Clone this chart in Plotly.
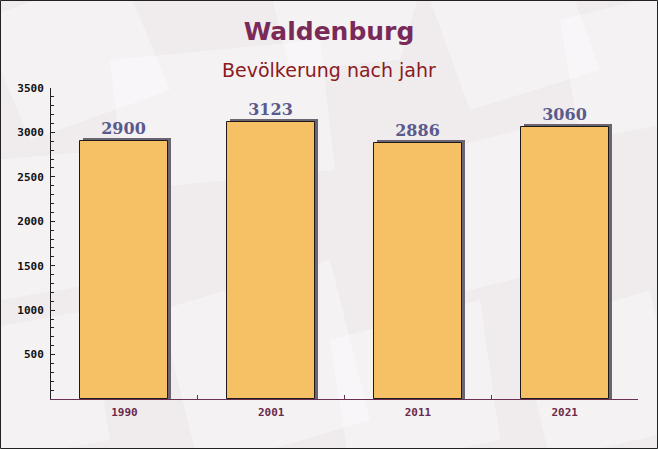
import plotly.graph_objects as go

# ---- data ----
years = ["1990", "2001", "2011", "2021"]
population = [2900, 3123, 2886, 3060]
y_tick_values = [500, 1000, 1500, 2000, 2500, 3000, 3500]
title_text = "Waldenburg"
subtitle_text = "Bevölkerung nach jahr"

# ---- geometry ----
W, H = 658, 449
L, R, T, B = 51, 20, 88, 50
PW, PH = W - L - R, H - T - B
Y_MAX = 3500
BAR_W = 0.6
SHADOW_PX = 3
shadow_dx = SHADOW_PX / (PW / len(years))
shadow_dy = SHADOW_PX * Y_MAX / PH


def px_x(px):
    return (px - L) / PW


def px_y(py):
    return (H - B - py) / PH


def poly(points):
    pts = [f"{px_x(x):.5f},{px_y(y):.5f}" for x, y in points]
    return "M" + " L".join(pts) + " Z"


fig = go.Figure()

# shadow bars
fig.add_trace(go.Bar(
    x=years,
    y=[v + shadow_dy for v in population],
    width=BAR_W,
    offset=-BAR_W / 2 + shadow_dx,
    marker=dict(color="#6a6570", line=dict(width=0)),
    hoverinfo="skip",
    showlegend=False,
))

# main bars
fig.add_trace(go.Bar(
    x=years,
    y=population,
    width=BAR_W,
    offset=-BAR_W / 2,
    marker=dict(color="#f6c064", line=dict(color="#1e1a1a", width=1)),
    text=[str(v) for v in population],
    textposition="outside",
    textfont=dict(family="DejaVu Serif", size=16, color="#5a5a8c", weight="bold"),
    cliponaxis=False,
    showlegend=False,
))

# faint background "envelope" patches
bg_polys = [
    [(-20, 20), (120, -30), (170, 90), (30, 140)],
    [(110, 60), (320, 40), (335, 170), (125, 190)],
    [(270, -10), (420, -10), (400, 60), (290, 70)],
    [(430, 0), (560, -40), (600, 70), (470, 110)],
    [(560, 20), (680, -10), (690, 120), (580, 140)],
    [(-10, 160), (110, 150), (120, 280), (0, 300)],
    [(160, 310), (330, 260), (370, 420), (200, 470)],
    [(330, 340), (480, 300), (500, 440), (350, 470)],
    [(520, 330), (650, 290), (680, 430), (550, 460)],
    [(-20, 330), (90, 310), (110, 440), (0, 460)],
    [(400, 160), (560, 120), (590, 260), (430, 300)],
]
shapes = []
for p in bg_polys:
    shapes.append(dict(
        type="path", path=poly(p), xref="paper", yref="paper",
        fillcolor="rgba(255,255,255,0.35)", line=dict(width=0), layer="below",
    ))
# outer border
shapes.append(dict(
    type="rect", xref="paper", yref="paper",
    x0=px_x(0.5), x1=px_x(W - 0.5), y0=px_y(H - 0.5), y1=px_y(0.5),
    line=dict(color="#222222", width=1), fillcolor="rgba(0,0,0,0)", layer="above",
))

fig.update_layout(
    width=W, height=H,
    margin=dict(l=L, r=R, t=T, b=B, pad=0),
    paper_bgcolor="#f0ecee",
    plot_bgcolor="rgba(0,0,0,0)",
    barmode="overlay",
    bargap=0,
    shapes=shapes,
    showlegend=False,
    title=dict(
        text=title_text,
        font=dict(family="DejaVu Sans", size=25, color="#7a2a58", weight="bold"),
        x=px_x(W / 2), xref="paper", xanchor="center",
        y=1 - 31.5 / H, yref="container", yanchor="middle",
    ),
    annotations=[dict(
        text=subtitle_text, showarrow=False,
        xref="paper", yref="paper", x=px_x(W / 2), y=px_y(70),
        xanchor="center", yanchor="middle",
        font=dict(family="DejaVu Sans", size=19, color="#8b1a22"),
    )],
)

fig.update_xaxes(
    type="category",
    range=[-0.5, len(years) - 0.5],
    showline=True, linecolor="#6b3050", linewidth=1,
    ticks="inside", tickson="boundaries", ticklen=4, tickcolor="#6b3050",
    tickfont=dict(family="DejaVu Sans Mono", size=11, color="#6b2a4a", weight="bold"),
    ticklabelstandoff=3,
    showgrid=False, zeroline=False,
    fixedrange=True,
)

fig.update_yaxes(
    range=[0, Y_MAX],
    tickvals=y_tick_values,
    ticktext=[str(v) for v in y_tick_values],
    showline=True, linecolor="#222222", linewidth=1,
    ticks="inside", ticklen=4, tickcolor="#222222",
    minor=dict(dtick=100, ticks="inside", ticklen=3, tickcolor="#222222", showgrid=False),
    tickfont=dict(family="DejaVu Sans Mono", size=11, color="#111111", weight="bold"),
    ticklabelstandoff=4,
    showgrid=False, zeroline=False,
    fixedrange=True,
)

fig.write_html(
    "out.html",
    config={"displayModeBar": False},
    post_script="document.body.style.margin='0';document.body.style.overflow='hidden';",
)
